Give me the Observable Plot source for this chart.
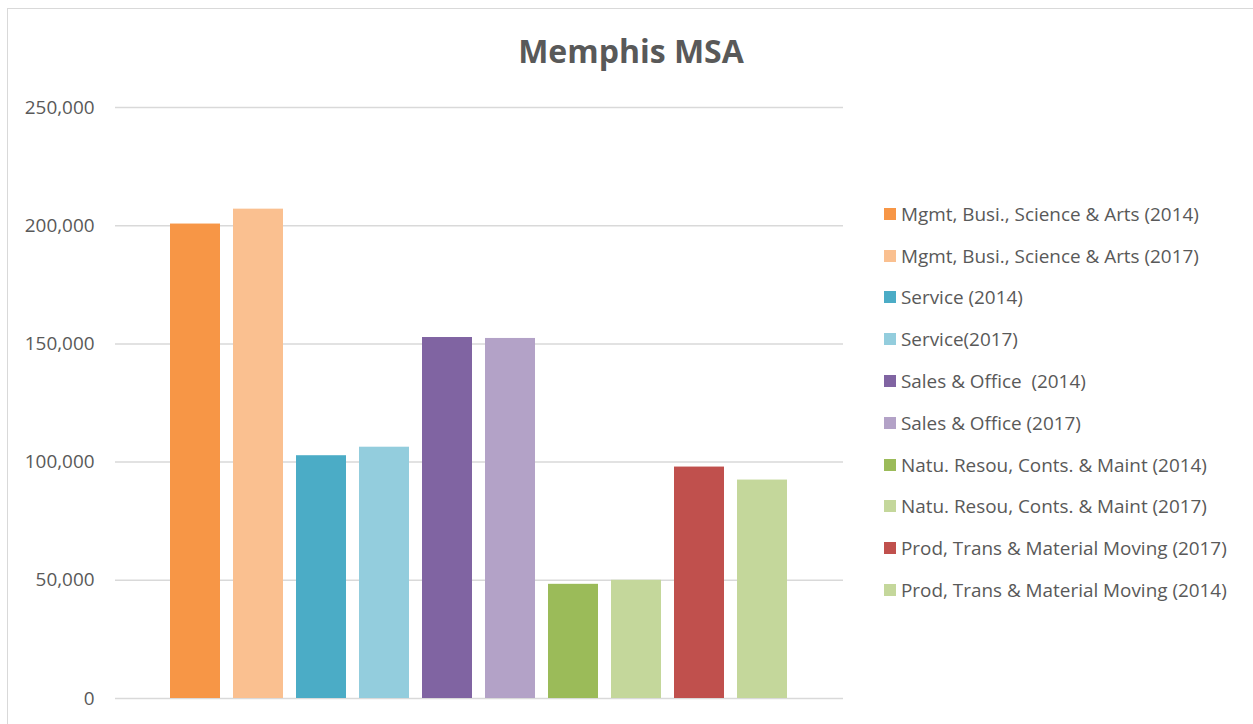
<!DOCTYPE html>
<html>
<head>
<meta charset="utf-8">
<script src="https://cdn.jsdelivr.net/npm/d3@7"></script>
<script src="https://cdn.jsdelivr.net/npm/@observablehq/plot@0.6"></script>
<style>
  html, body { margin: 0; padding: 0; background: #fff; }
  #page { position: relative; width: 1253px; height: 724px; overflow: hidden; font-family: "Open Sans", sans-serif; }
  #frame { position: absolute; left: 7px; top: 8px; width: 1260px; height: 740px; border: 1px solid #d9d9d9; box-sizing: border-box; }
  #title { position: absolute; left: 0; width: 1262px; top: 29px; text-align: center; font-size: 32px; font-weight: bold; color: #595959; line-height: 44px; }
  #chart { position: absolute; left: 0; top: 80px; }
  #legend { position: absolute; left: 884px; top: 193px; }
  .item { display: flex; align-items: center; height: 41.8px; font-size: 18.9px; color: #595959; white-space: pre; }
  .sw { width: 12px; height: 12px; margin-right: 5px; flex: none; }
</style>
</head>
<body>
<div id="page">
  <div id="frame"></div>
  <div id="title">Memphis MSA</div>
  <div id="chart"></div>
  <div id="legend"></div>
</div>
<script>
const series = [
  "Mgmt, Busi., Science & Arts (2014)",
  "Mgmt, Busi., Science & Arts (2017)",
  "Service (2014)",
  "Service(2017)",
  "Sales & Office  (2014)",
  "Sales & Office (2017)",
  "Natu. Resou, Conts. & Maint (2014)",
  "Natu. Resou, Conts. & Maint (2017)",
  "Prod, Trans & Material Moving (2017)",
  "Prod, Trans & Material Moving (2014)"
];
const values = [200700, 207000, 102700, 106300, 152700, 152300, 48300, 50000, 97900, 92400];
const colors = ["#F79646", "#FAC090", "#4BACC6", "#93CDDD", "#8064A2", "#B3A2C7", "#9BBB59", "#C4D79B", "#C0504D", "#C4D79B"];
const yTicks = [0, 50000, 100000, 150000, 200000, 250000];

const data = series.map((s, i) => ({series: s, value: values[i], color: colors[i]}));

const chart = Plot.plot({
  width: 850,
  height: 644,
  marginLeft: 115,
  marginRight: 7,
  marginTop: 27,
  marginBottom: 26,
  style: {fontFamily: "Open Sans, sans-serif", fontSize: "18.9px", color: "#595959", background: "transparent"},
  x: {type: "band", domain: series, range: [169, 788], paddingInner: 0.209, paddingOuter: 0, axis: null},
  y: {domain: [0, 250000], ticks: yTicks, tickFormat: d3.format(","), tickSize: 0, tickPadding: 21, label: null},
  color: {type: "identity"},
  marks: [
    Plot.ruleY(yTicks, {stroke: "#d9d9d9", strokeWidth: 1.5}),
    Plot.barY(data, {x: "series", y: "value", fill: "color"}),
    Plot.axisY({ticks: yTicks, tickFormat: d3.format(","), tickSize: 0, tickPadding: 21, label: null, fill: "#595959"})
  ]
});
document.getElementById("chart").appendChild(chart);

const legend = document.getElementById("legend");
series.forEach((s, i) => {
  const row = document.createElement("div");
  row.className = "item";
  const sw = document.createElement("span");
  sw.className = "sw";
  sw.style.background = colors[i];
  const t = document.createElement("span");
  t.textContent = s;
  row.appendChild(sw);
  row.appendChild(t);
  legend.appendChild(row);
});
</script>
</body>
</html>
